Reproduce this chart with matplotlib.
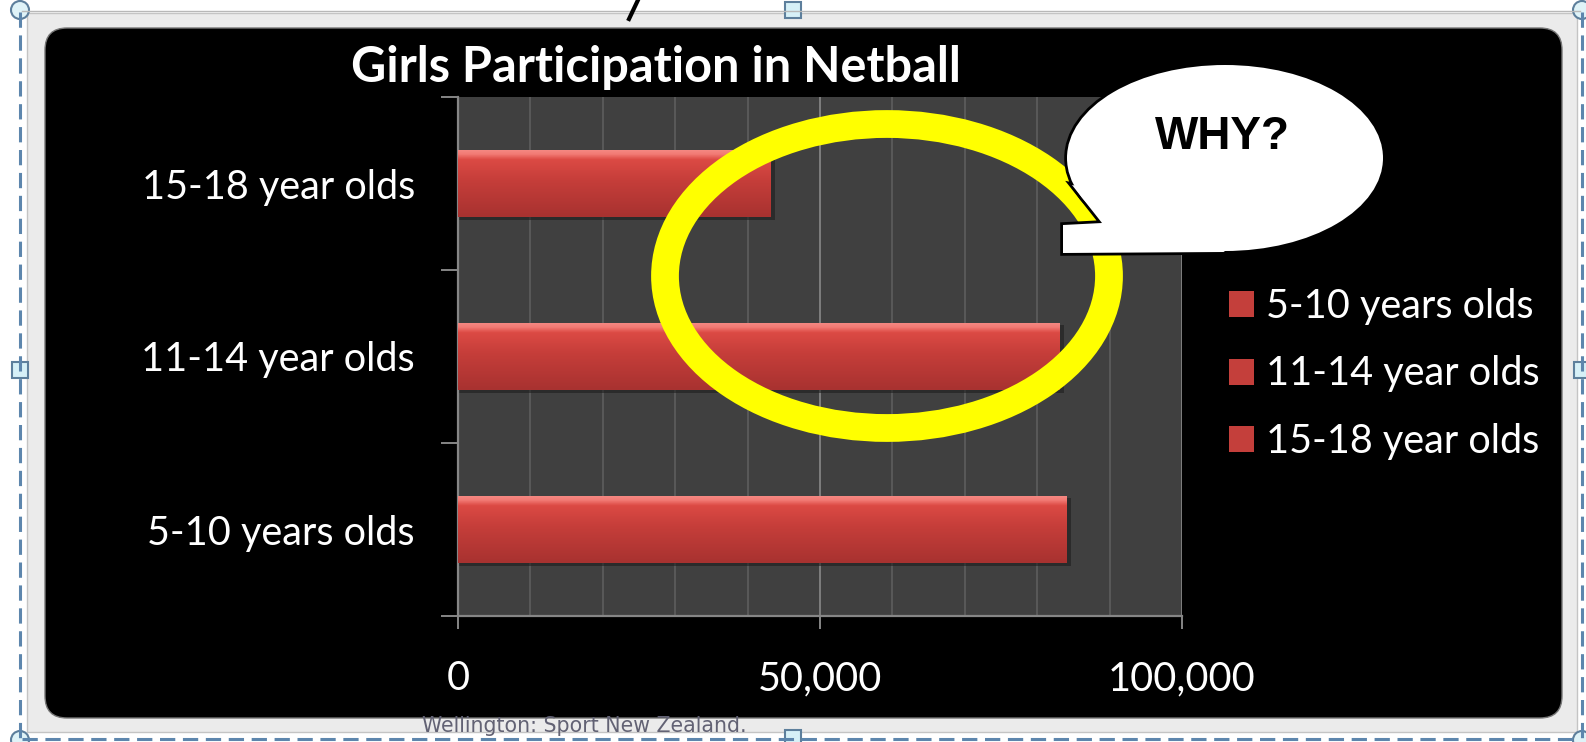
import numpy as np
import matplotlib
matplotlib.use("Agg")
import matplotlib.pyplot as plt
from matplotlib.patches import Rectangle, Ellipse, Polygon, FancyBboxPatch, Circle, Patch
from matplotlib.ticker import FixedLocator, MultipleLocator, FuncFormatter
from matplotlib.colors import LinearSegmentedColormap

plt.rcParams['font.family'] = ['Lato', 'DejaVu Sans']

# data
categories = ["5-10 years olds", "11-14 year olds", "15-18 year olds"]
girls      = [84000, 83100, 43200]
xticks     = [0, 50000, 100000]
title      = "Girls Participation in Netball"

W, H = 1586, 742
fig = plt.figure(figsize=(W/100, H/100), dpi=100, facecolor="white")

# screenshot frame (pixel coords)
bg = fig.add_axes([0, 0, 1, 1], zorder=0)
bg.set_xlim(0, W)
bg.set_ylim(H, 0)
bg.axis("off")
bg.add_patch(Rectangle((27, 13), 1550, 719, facecolor="#ebebeb", edgecolor="#c4c4c4", lw=1))
bg.add_patch(FancyBboxPatch((45, 28), 1517, 690, boxstyle="round,pad=0,rounding_size=22",
                            facecolor="black", edgecolor="#777777", lw=1))
sel = dict(color="#5d86ad", lw=2.2, linestyle=(0, (5, 2.5)))
bg.plot([20, 20], [12, 738], **sel)
bg.plot([1582, 1582], [12, 738], **sel)
bg.plot([22, 1580], [739, 739], **sel)
bg.plot([22, 1580], [11, 11], color="#b8b8b8", lw=1)
for cx, cy in [(20, 10), (1582, 10), (20, 740), (1582, 740)]:
    bg.add_patch(Circle((cx, cy), 9, facecolor="#dff3f8", edgecolor="#5d7f9c", lw=1.5))
for cx, cy in [(793, 10), (793, 738), (20, 370), (1582, 370)]:
    bg.add_patch(Rectangle((cx-8, cy-8), 16, 16, facecolor="#d6f0f7", edgecolor="#5d7f9c", lw=1.5))
bg.plot([638, 629], [0, 19], color="black", lw=3)
bg.text(422, 726, "Wellington: Sport New Zealand.", color="#626274", fontsize=14.8,
        va="center", ha="left", family=["DejaVu Sans"])

# chart
ax = fig.add_axes([458/W, 1-616/H, 724/W, 519/H], zorder=1)
ax.set_facecolor("#404040")
ypos = np.arange(len(categories))
bars = ax.barh(ypos, girls, height=0.39, color="#c9403c", edgecolor="none", zorder=3)

grad = LinearSegmentedColormap.from_list("bar", [(0, "#a83230"), (0.55, "#c63e3a"),
                                                (0.85, "#dc4a44"), (0.93, "#f27a74"), (1, "#f58a84")])
g = np.linspace(0, 1, 100).reshape(-1, 1)
for b in bars:
    x0, y0, w, h = b.get_x(), b.get_y(), b.get_width(), b.get_height()
    ax.add_patch(Rectangle((x0, y0 - 0.015), w + 600, h, facecolor="#1e1e1e", edgecolor="none",
                           alpha=0.6, zorder=2))
    im = ax.imshow(g, cmap=grad, aspect="auto", origin="lower",
                   extent=[x0, x0 + w, y0, y0 + h], zorder=4)
    im.set_clip_path(b)

ax.set_xlim(0, 100000)
ax.set_ylim(-0.5, len(categories) - 0.5)
ax.xaxis.set_major_locator(FixedLocator(xticks))
ax.xaxis.set_minor_locator(MultipleLocator(10000))
ax.xaxis.set_major_formatter(FuncFormatter(lambda v, p: "{:,.0f}".format(v)))
ax.grid(axis="x", which="minor", color="#5e5e5e", lw=1.2, zorder=1)
ax.grid(axis="x", which="major", color="#7e7e7e", lw=1.4, zorder=1)
ax.set_yticks(ypos)
ax.set_yticklabels(categories)
ax.yaxis.set_minor_locator(FixedLocator(np.arange(-0.5, len(categories), 1.0)))
ax.tick_params(axis="x", which="major", length=9, width=1.4, color="#868686",
               labelcolor="white", labelsize=28.5, pad=23)
ax.tick_params(axis="x", which="minor", length=0)
ax.tick_params(axis="y", which="major", length=0, labelcolor="white", labelsize=28.5, pad=31)
ax.tick_params(axis="y", which="minor", length=12, width=1.4, color="#868686")
for s in ["top", "right"]:
    ax.spines[s].set_visible(False)
for s in ["left", "bottom"]:
    ax.spines[s].set_color("#868686")
    ax.spines[s].set_linewidth(1.6)

fig.text(656/W, 1-67/H, title, color="white", fontsize=35, fontweight="bold",
         ha="center", va="center")

handles = [Patch(facecolor="#c43f3b", edgecolor="none") for _ in categories]
fig.legend(handles, categories, loc="center left", bbox_to_anchor=(1229/W, 1-374/H),
           frameon=False, fontsize=28.5, labelcolor="white", handlelength=0.63,
           handleheight=0.63, handletextpad=0.3, labelspacing=0.77,
           borderpad=0, borderaxespad=0)

# annotation overlay
ov = fig.add_axes([0, 0, 1, 1], zorder=3)
ov.set_xlim(0, W)
ov.set_ylim(H, 0)
ov.axis("off")
ov.patch.set_alpha(0)
ov.add_patch(Ellipse((887, 276), 444, 304, facecolor="none", edgecolor="#ffff00", lw=20))
tail = [(1072, 185), (1102, 223), (1063, 225), (1063, 253), (1225, 252), (1150, 200)]
ov.add_patch(Polygon(tail, closed=True, facecolor="white", edgecolor="black", lw=4, zorder=1))
ov.add_patch(Ellipse((1225, 158), 316, 186, facecolor="white", edgecolor="black", lw=4, zorder=1))
ov.add_patch(Polygon(tail, closed=True, facecolor="white", edgecolor="none", zorder=2))
ov.add_patch(Ellipse((1225, 158), 316, 186, facecolor="white", edgecolor="none", zorder=2))
ov.text(1222, 137, "WHY?", color="black", fontsize=33, fontweight="bold", ha="center",
        va="center", family=["Liberation Sans"], zorder=3)

fig.savefig("out.png", dpi=100, facecolor=fig.get_facecolor())
